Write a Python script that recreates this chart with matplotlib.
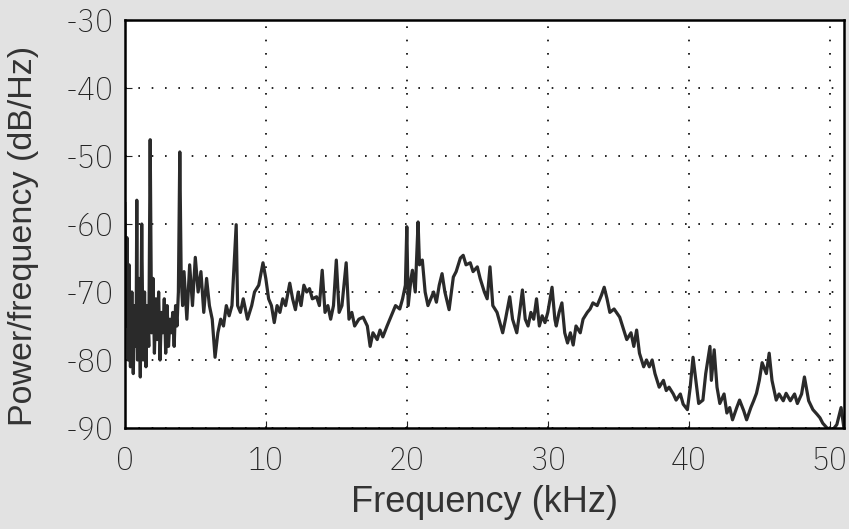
import matplotlib
matplotlib.use("Agg")
import matplotlib.pyplot as plt
import numpy as np

# power spectral density (kHz, dB/Hz)
freq_khz = [0.0, 0.1, 0.15, 0.25, 0.3, 0.4, 0.5, 0.6, 0.7, 0.8, 0.85, 0.9, 1.0, 1.1, 1.2, 1.3, 1.4, 1.5,
            1.6, 1.7, 1.8, 1.9, 2.0, 2.1, 2.2, 2.3, 2.4, 2.5, 2.6, 2.7, 2.8, 2.9, 3.0, 3.1, 3.2, 3.3,
            3.4, 3.5, 3.6, 3.7, 3.8, 3.9, 4.0, 4.1, 4.2, 4.4, 4.6, 4.8, 5.0, 5.2, 5.4, 5.6, 5.8, 6.0,
            6.2, 6.4, 6.6, 6.8, 7.0, 7.2, 7.4, 7.6, 7.9, 8.0, 8.2, 8.4, 8.7, 9.0, 9.2, 9.5, 9.8, 10.0,
            10.2, 10.4, 10.6, 10.8, 11.0, 11.2, 11.4, 11.7, 11.9, 12.1, 12.3, 12.5, 12.7, 12.9, 13.1,
            13.3, 13.6, 13.8, 14.0, 14.2, 14.4, 14.6, 14.8, 15.0, 15.2, 15.4, 15.7, 15.9, 16.1, 16.3,
            16.6, 16.9, 17.2, 17.4, 17.6, 17.9, 18.1, 18.3, 18.6, 18.8, 19.0, 19.2, 19.5, 19.7, 19.9,
            20.0, 20.1, 20.3, 20.4, 20.6, 20.8, 20.9, 21.1, 21.3, 21.5, 21.7, 21.9, 22.1, 22.3, 22.5,
            22.7, 23.0, 23.3, 23.5, 23.8, 24.0, 24.2, 24.5, 24.7, 25.0, 25.2, 25.5, 25.7, 25.9, 26.1,
            26.4, 26.6, 26.8, 27.0, 27.3, 27.5, 27.8, 28.0, 28.2, 28.4, 28.6, 28.8, 29.0, 29.2, 29.4,
            29.6, 29.8, 30.0, 30.3, 30.5, 30.6, 30.8, 31.0, 31.2, 31.4, 31.6, 31.8, 32.0, 32.3, 32.5,
            32.8, 33.0, 33.2, 33.5, 33.8, 34.0, 34.2, 34.4, 34.7, 35.1, 35.3, 35.6, 35.9, 36.1, 36.3,
            36.5, 36.8, 37.0, 37.2, 37.4, 37.6, 37.9, 38.2, 38.4, 38.6, 38.9, 39.1, 39.4, 39.6, 39.9,
            40.1, 40.3, 40.5, 40.7, 41.0, 41.2, 41.5, 41.6, 41.8, 42.0, 42.2, 42.5, 42.7, 42.9, 43.1,
            43.4, 43.6, 43.9, 44.1, 44.4, 44.6, 44.8, 45.0, 45.2, 45.5, 45.7, 45.9, 46.2, 46.4, 46.7,
            46.9, 47.2, 47.5, 47.7, 48.0, 48.2, 48.5, 48.8, 49.1, 49.3, 49.5, 49.8, 50.2, 50.5, 50.8,
            51.0]
psd_db = [-57, -75, -62, -80, -66, -81, -70, -82, -72, -78, -56.5, -80, -68, -82.5, -60, -80, -70, -81,
          -72, -78, -47.6, -76, -68, -79, -71, -77, -70, -80, -73, -76, -71, -79, -72, -78, -74, -76,
          -73, -78, -72, -75, -70, -49.4, -68, -72, -67, -74, -66, -72, -64.9, -70, -67, -73, -68, -72,
          -74, -79.6, -76, -74, -75, -72, -73.5, -72, -60.1, -72, -73, -71, -74, -72, -70, -69, -65.7, -68,
          -71, -72, -74.5, -72, -73, -71, -72, -68.7, -71, -72.6, -70, -72, -69, -70, -69.5,
          -71, -70.7, -72, -66.8, -73, -72, -74, -72, -65.3, -73, -72, -65.7, -74, -73, -75,
          -74, -73.7, -75, -78, -76, -77, -75.6, -76.6, -75, -74, -73, -72, -72.5, -71, -69,
          -60.4, -72, -68, -66.8, -70, -59.7, -66, -65.3, -70, -72, -71, -70, -71.5, -69, -67.3,
          -70, -72.6, -67.8, -67, -65, -64.6, -66, -65.7, -67, -66.3, -68, -70, -71, -66.3, -72,
          -73, -74.5, -76, -74, -70.7, -74, -76, -73, -69.7, -74, -75, -73, -74, -71, -75,
          -73.5, -74.5, -73, -69.3, -74, -75, -73, -71.6, -76, -77.5, -76, -77.8, -75, -76, -74,
          -73, -72.5, -71.6, -72, -70.5, -69.3, -71, -73, -72.5, -73.7, -75, -77, -76, -78, -75.6,
          -79, -81, -80, -81, -80, -82, -84, -83, -84.5, -84, -85, -85.9, -85, -86.5, -87.3,
          -84, -79.6, -83, -86.4, -85.9, -82, -78, -83, -78.5, -84, -86.4, -85, -87.8, -87, -88.8,
          -87, -85.9, -87.5, -88.8, -87, -86, -84.9, -83, -80.4, -82, -79, -83, -85.9, -85, -86,
          -84.9, -86, -85, -86.4, -85, -82.5, -86, -87.3, -88, -88.5, -89.3, -90, -90.3, -89.5, -87,
          -90]

x_ticks = [0, 10, 20, 30, 40, 50]
y_ticks = [-90, -80, -70, -60, -50, -40, -30]

plt.rcParams['font.family'] = ['IBM Plex Sans Condensed', 'Liberation Sans', 'DejaVu Sans']
plt.rcParams['font.weight'] = 'light'
plt.rcParams['axes.unicode_minus'] = False
label_font = ['Liberation Sans', 'DejaVu Sans']

fig = plt.figure(figsize=(8.49, 5.29), dpi=100, facecolor='#e2e2e2')
ax = fig.add_axes([0.147, 0.191, 0.847, 0.771])
ax.set_facecolor('white')

ax.plot(freq_khz, psd_db, color='#2a2a2a', linewidth=2.3)

ax.set_xlim(0, 51)
ax.set_ylim(-90, -30)
ax.set_xticks(x_ticks)
ax.set_yticks(y_ticks)
ax.tick_params(direction='in', length=5, labelsize=24, pad=8, colors='#222222')
ax.tick_params(axis='x', pad=13)
ax.grid(True, linestyle=(0, (1, 7)), color='black', linewidth=1.2)
for s in ax.spines.values():
    s.set_linewidth(1.8)

ax.set_xlabel("Frequency (kHz)", fontsize=26, color='#333333', labelpad=6,
              family=label_font, weight='normal')
ax.set_ylabel("Power/frequency (dB/Hz)", fontsize=24.5, color='#333333',
              family=label_font, weight='normal')
ax.yaxis.set_label_coords(-0.12, 0.47)

fig.savefig("out.png", dpi=100, facecolor=fig.get_facecolor())
